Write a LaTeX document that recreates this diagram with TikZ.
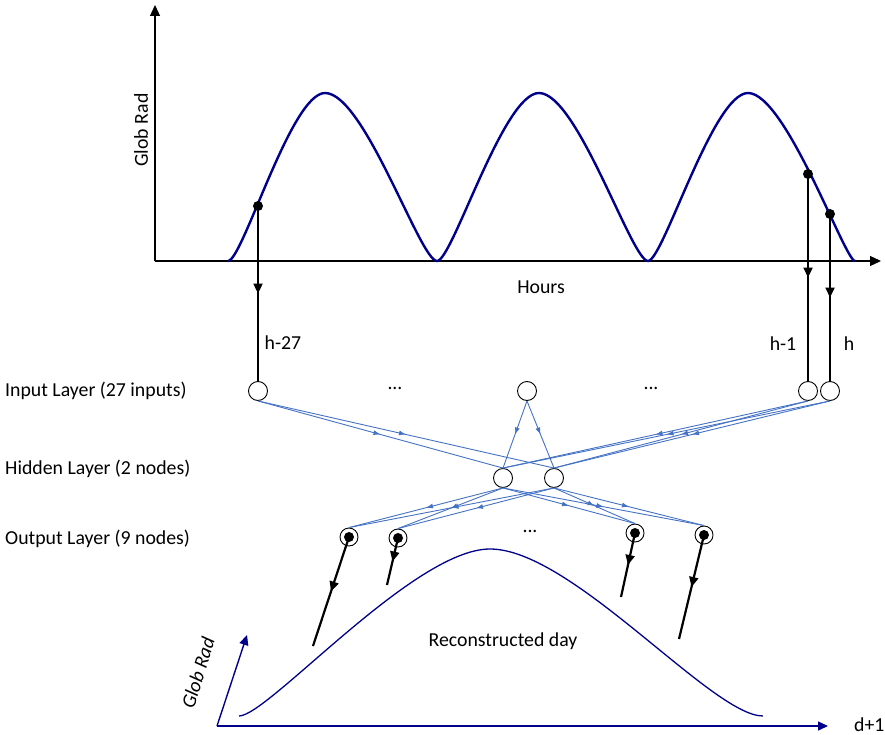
\documentclass[tikz,border=0pt]{standalone}
\usepackage{fontspec}
\setmainfont{Carlito}
\usetikzlibrary{arrows.meta,decorations.markings}

\definecolor{curveblue}{RGB}{0,0,139}
\definecolor{netblue}{RGB}{68,114,196}

\begin{document}
\begin{tikzpicture}[
        x=1pt, y=-1pt,
        font=\fontsize{19.8}{23}\selectfont,
        neuron/.style={circle, draw, fill=white, minimum size=19pt, inner sep=0pt, line width=0.9pt},
        outneuron/.style={neuron, minimum size=18pt},
        sample/.style={circle, fill, minimum size=10pt, inner sep=0pt},
        axis/.style={draw, line width=1.2pt, -{Triangle[length=11pt,width=10pt]}},
        dayaxis/.style={draw, curveblue, line width=1.4pt, -{Triangle[length=10pt,width=9pt]}},
        feed/.style={draw, line width=2.2pt, postaction={decorate}, decoration={markings, mark=at position 0.5 with {\arrow{Triangle[length=10pt,width=9pt]}}}},
        link/.style={draw, netblue, line width=0.9pt, postaction={decorate}, decoration={markings, mark=at position 0.5 with {\arrow{Latex[length=7pt,width=5pt]}}}},
        lbl/.style={inner sep=0pt}
    ]
        \useasboundingbox (0,0) rectangle (885,735);

        \coordinate (origin) at (155,261);
        \coordinate (ytop) at (155,5);
        \coordinate (xend) at (881,261);
        \path [axis] (origin) -- (ytop);
        \path [axis] (origin) -- (xend);
        \draw [curveblue, line width=2.4pt] (228,261)
            .. controls (242.6,261) and (291,93) .. (325,93)
            .. controls (364.2,93) and (420.2,261) .. (437,261)
            .. controls (452.3,261) and (503.3,93) .. (539,93)
            .. controls (577.2,93) and (631.7,261) .. (648,261)
            .. controls (663,261) and (713,93) .. (748,93)
            .. controls (785.5,93) and (845,261) .. (855,261);
        \node [lbl, rotate=90] (yname) at (141,130) {Glob Rad};
        \node [lbl] (xname) at (541,287) {Hours};

        \node [sample] (s1) at (258,206) {};
        \node [sample] (s2) at (808,174) {};
        \node [sample] (s3) at (830,214) {};

        \node [neuron] (in1) at (258,391) {};
        \node [neuron] (in2) at (527,391) {};
        \node [neuron] (in3) at (808,391) {};
        \node [neuron] (in4) at (830,391) {};
        \node [neuron] (hid1) at (503,478) {};
        \node [neuron] (hid2) at (554,478) {};
        \node [outneuron] (out1) at (349,537) {};
        \node [outneuron] (out2) at (398,538) {};
        \node [outneuron] (out3) at (635,533) {};
        \node [outneuron] (out4) at (704,535) {};
        \node [sample] (core1) at (out1) {};
        \node [sample] (core2) at (out2) {};
        \node [sample] (core3) at (out3) {};
        \node [sample] (core4) at (out4) {};

        \node [lbl] (lh27) at (283,343) {h-27};
        \node [lbl] (lh1) at (783,344) {h-1};
        \node [lbl] (lh) at (849,344) {h};
        \node [lbl] (dots1) at (395,388) {...};
        \node [lbl] (dots2) at (651,388) {...};
        \node [lbl] (dots3) at (530,531) {...};
        \node [lbl, anchor=west] (linput) at (5,391) {Input Layer (27 inputs)};
        \node [lbl, anchor=west] (lhidden) at (5,469) {Hidden Layer (2 nodes)};
        \node [lbl, anchor=west] (loutput) at (5,539) {Output Layer (9 nodes)};

        \path [feed] (s1.center) -- (in1);
        \path [feed] (s2.center) -- (in3);
        \path [feed] (s3.center) -- (in4);

        \path [link] (in1.south) -- (hid1.north);
        \path [link] (in1.south) -- (hid2.north);
        \path [link] (in2.south) -- (hid1.north);
        \path [link] (in2.south) -- (hid2.north);
        \path [link] (in3.south) -- (hid1.north);
        \path [link] (in3.south) -- (hid2.north);
        \path [link] (in4.south) -- (hid1.north);
        \path [link] (in4.south) -- (hid2.north);
        \path [link] (hid1.south) -- (out1.north);
        \path [link] (hid1.south) -- (out2.north);
        \path [link] (hid1.south) -- (out3.north);
        \path [link] (hid1.south) -- (out4.north);
        \path [link] (hid2.south) -- (out1.north);
        \path [link] (hid2.south) -- (out2.north);
        \path [link] (hid2.south) -- (out3.north);
        \path [link] (hid2.south) -- (out4.north);

        \coordinate (e1) at (313,646);
        \coordinate (e2) at (387,585);
        \coordinate (e3) at (621,597);
        \coordinate (e4) at (679,639);
        \path [feed] (core1.center) -- (e1);
        \path [feed] (core2.center) -- (e2);
        \path [feed] (core3.center) -- (e3);
        \path [feed] (core4.center) -- (e4);

        \coordinate (dorigin) at (217,726);
        \coordinate (dytip) at (247,635);
        \coordinate (dxtip) at (828,726);
        \path [dayaxis] (dorigin) -- (dytip);
        \path [dayaxis] (dorigin) -- (dxtip);
        \draw [curveblue, line width=1.3pt] (239,716)
            .. controls (268,716) and (413.5,549) .. (490,549)
            .. controls (572,549) and (712,716) .. (763,716);
        \node [lbl] (lday) at (503,641) {Reconstructed day};
        \node [lbl, anchor=west] (ldnext) at (854,725) {d+1};
        \node [lbl, rotate=73, font=\fontsize{19.8}{23}\selectfont\itshape] (dyname) at (198,673) {Glob Rad};
    \end{tikzpicture}
\end{document}
